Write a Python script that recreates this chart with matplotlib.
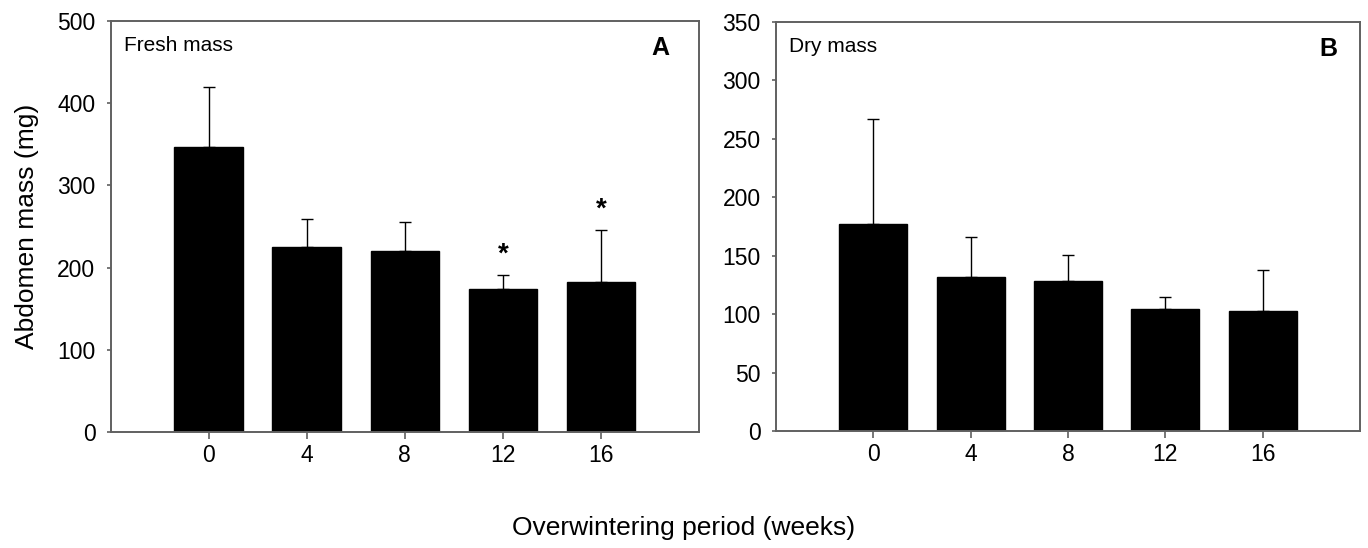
import matplotlib
matplotlib.use("Agg")
import matplotlib.pyplot as plt
import numpy as np

plt.rcParams['font.family'] = ['Liberation Sans', 'DejaVu Sans']

weeks = ["0", "4", "8", "12", "16"]
fresh_mean = [347, 225, 220, 174, 183]
fresh_err = [73, 34, 36, 17, 63]
fresh_star = [None, None, None, 216, 271]
dry_mean = [177, 132, 128, 104, 103]
dry_err = [90, 34, 23, 11, 35]

spine_col = "#606060"
x = np.arange(len(weeks))

fig = plt.figure(figsize=(13.68, 5.48), dpi=100)
axA = fig.add_axes([0.0809, 0.2117, 0.4301, 0.75])
axB = fig.add_axes([0.5673, 0.2135, 0.4269, 0.7464])

def draw(ax, means, errs, ymax, ystep, label, letter, lx):
    ax.bar(x, means, width=0.7, color="black", edgecolor="black", zorder=2)
    ax.errorbar(x, means, yerr=[np.zeros(len(errs)), errs], fmt="none",
                ecolor="black", elinewidth=1, capsize=4, capthick=1, zorder=1)
    ax.set_xlim(-1, 5)
    ax.set_ylim(0, ymax)
    ax.set_xticks(x)
    ax.set_xticklabels(weeks)
    ax.set_yticks(np.arange(0, ymax + 1, ystep))
    ax.tick_params(axis="both", labelsize=16.5, color=spine_col, width=1.2)
    ax.tick_params(axis="y", length=3, pad=8)
    ax.tick_params(axis="x", length=4.7, pad=4)
    for s in ax.spines.values():
        s.set_color(spine_col)
        s.set_linewidth(1.4)
    ax.text(0.023, 0.94, label, transform=ax.transAxes, fontsize=15, va="center", ha="left")
    ax.text(lx, 0.935, letter, transform=ax.transAxes, fontsize=18, fontweight="bold",
            va="center", ha="center")

draw(axA, fresh_mean, fresh_err, 500, 100, "Fresh mass", "A", 0.934)
draw(axB, dry_mean, dry_err, 350, 50, "Dry mass", "B", 0.945)

for i, s in enumerate(fresh_star):
    if s is not None:
        axA.text(x[i], s, "*", ha="center", va="center", fontsize=20, fontweight="bold")

axA.set_ylabel("Abdomen mass (mg)", fontsize=19)
axA.yaxis.set_label_coords(-0.122, 0.5)
fig.text(0.5, 0.036, "Overwintering period (weeks)", ha="center", va="center", fontsize=19)

fig.savefig("out.png", dpi=100)
